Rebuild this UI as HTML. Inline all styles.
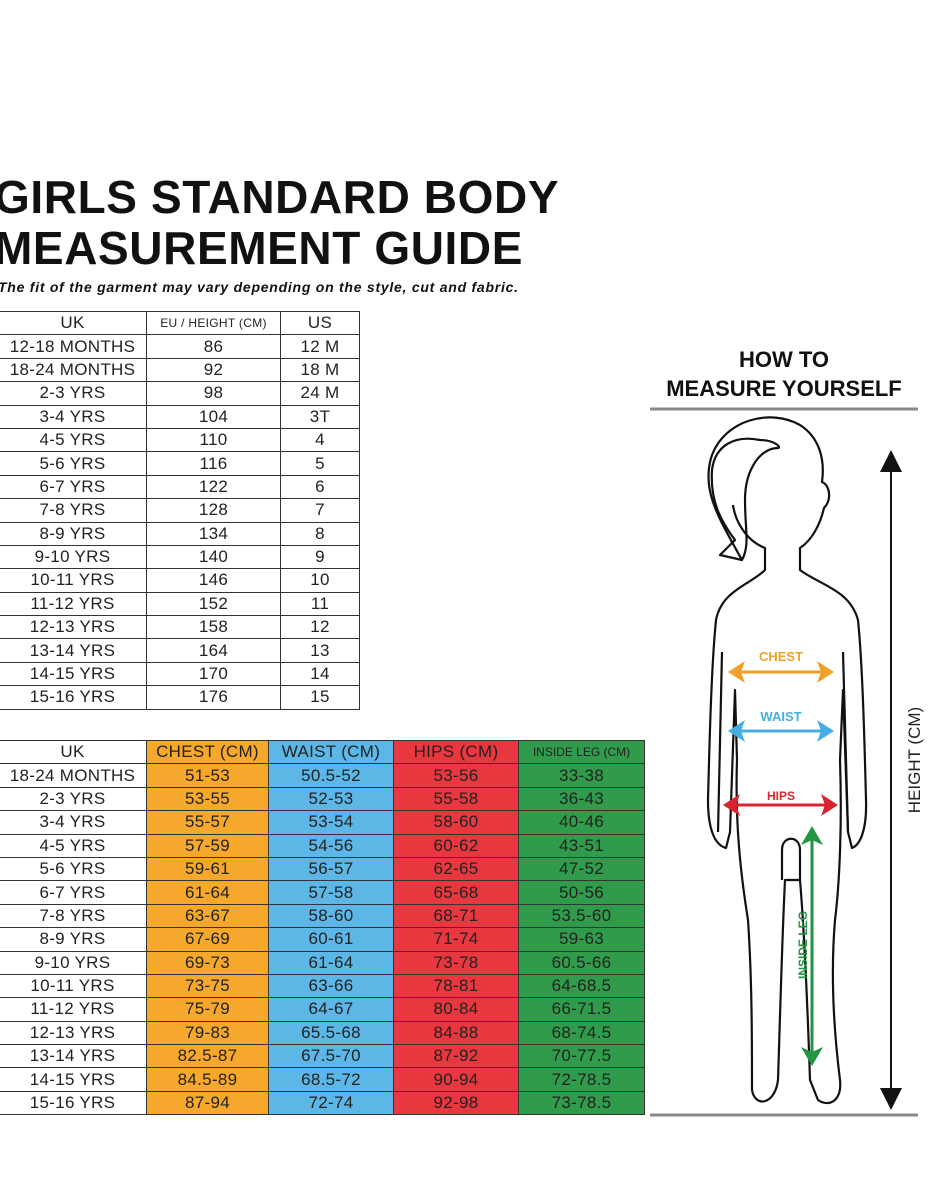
<!DOCTYPE html>
<html><head><meta charset="utf-8"><style>
body{margin:0;width:930px;height:1195px;background:#fff;position:relative;overflow:hidden;font-family:"Liberation Sans",sans-serif;color:#222}
.t{position:absolute;white-space:nowrap}
table{position:absolute;border-collapse:collapse;table-layout:fixed}
td{border:1.5px solid #333;text-align:center;padding:0;font-size:17px;height:22.4px;line-height:20px;overflow:hidden;white-space:nowrap;letter-spacing:0.3px}
.o{background:#f5a82c}.b{background:#5cb6e6}.r{background:#e8373f}.g{background:#2f9b4b}
</style></head><body>
<div class="t" style="left:-6px;top:170px;font-size:46px;font-weight:bold;color:#111;letter-spacing:0.6px">GIRLS STANDARD BODY</div>
<div class="t" style="left:-6px;top:221px;font-size:46px;font-weight:bold;color:#111;letter-spacing:0.6px">MEASUREMENT GUIDE</div>
<div class="t" style="left:-2px;top:279px;font-size:14px;font-weight:bold;font-style:italic;color:#111;letter-spacing:0.75px">The fit of the garment may vary depending on the style, cut and fabric.</div>

<table style="left:-2px;top:311px;width:361px">
<colgroup><col style="width:148px"><col style="width:134px"><col style="width:79px"></colgroup>
<tr><td>UK</td><td style="font-size:12px">EU / HEIGHT (CM)</td><td>US</td></tr>
<tr><td>12-18 MONTHS</td><td>86</td><td>12 M</td></tr>
<tr><td>18-24 MONTHS</td><td>92</td><td>18 M</td></tr>
<tr><td>2-3 YRS</td><td>98</td><td>24 M</td></tr>
<tr><td>3-4 YRS</td><td>104</td><td>3T</td></tr>
<tr><td>4-5 YRS</td><td>110</td><td>4</td></tr>
<tr><td>5-6 YRS</td><td>116</td><td>5</td></tr>
<tr><td>6-7 YRS</td><td>122</td><td>6</td></tr>
<tr><td>7-8 YRS</td><td>128</td><td>7</td></tr>
<tr><td>8-9 YRS</td><td>134</td><td>8</td></tr>
<tr><td>9-10 YRS</td><td>140</td><td>9</td></tr>
<tr><td>10-11 YRS</td><td>146</td><td>10</td></tr>
<tr><td>11-12 YRS</td><td>152</td><td>11</td></tr>
<tr><td>12-13 YRS</td><td>158</td><td>12</td></tr>
<tr><td>13-14 YRS</td><td>164</td><td>13</td></tr>
<tr><td>14-15 YRS</td><td>170</td><td>14</td></tr>
<tr><td>15-16 YRS</td><td>176</td><td>15</td></tr>
</table>

<table style="left:-2px;top:740px;width:646px">
<colgroup><col style="width:148px"><col style="width:122px"><col style="width:125px"><col style="width:125px"><col style="width:126px"></colgroup>
<tr><td>UK</td><td class="o">CHEST (CM)</td><td class="b">WAIST (CM)</td><td class="r">HIPS (CM)</td><td class="g" style="font-size:12px;letter-spacing:0">INSIDE LEG (CM)</td></tr>
<tr><td>18-24 MONTHS</td><td class="o">51-53</td><td class="b">50.5-52</td><td class="r">53-56</td><td class="g">33-38</td></tr>
<tr><td>2-3 YRS</td><td class="o">53-55</td><td class="b">52-53</td><td class="r">55-58</td><td class="g">36-43</td></tr>
<tr><td>3-4 YRS</td><td class="o">55-57</td><td class="b">53-54</td><td class="r">58-60</td><td class="g">40-46</td></tr>
<tr><td>4-5 YRS</td><td class="o">57-59</td><td class="b">54-56</td><td class="r">60-62</td><td class="g">43-51</td></tr>
<tr><td>5-6 YRS</td><td class="o">59-61</td><td class="b">56-57</td><td class="r">62-65</td><td class="g">47-52</td></tr>
<tr><td>6-7 YRS</td><td class="o">61-64</td><td class="b">57-58</td><td class="r">65-68</td><td class="g">50-56</td></tr>
<tr><td>7-8 YRS</td><td class="o">63-67</td><td class="b">58-60</td><td class="r">68-71</td><td class="g">53.5-60</td></tr>
<tr><td>8-9 YRS</td><td class="o">67-69</td><td class="b">60-61</td><td class="r">71-74</td><td class="g">59-63</td></tr>
<tr><td>9-10 YRS</td><td class="o">69-73</td><td class="b">61-64</td><td class="r">73-78</td><td class="g">60.5-66</td></tr>
<tr><td>10-11 YRS</td><td class="o">73-75</td><td class="b">63-66</td><td class="r">78-81</td><td class="g">64-68.5</td></tr>
<tr><td>11-12 YRS</td><td class="o">75-79</td><td class="b">64-67</td><td class="r">80-84</td><td class="g">66-71.5</td></tr>
<tr><td>12-13 YRS</td><td class="o">79-83</td><td class="b">65.5-68</td><td class="r">84-88</td><td class="g">68-74.5</td></tr>
<tr><td>13-14 YRS</td><td class="o">82.5-87</td><td class="b">67.5-70</td><td class="r">87-92</td><td class="g">70-77.5</td></tr>
<tr><td>14-15 YRS</td><td class="o">84.5-89</td><td class="b">68.5-72</td><td class="r">90-94</td><td class="g">72-78.5</td></tr>
<tr><td>15-16 YRS</td><td class="o">87-94</td><td class="b">72-74</td><td class="r">92-98</td><td class="g">73-78.5</td></tr>
</table>

<div class="t" style="left:650px;width:268px;text-align:center;top:347px;font-size:22px;font-weight:bold;color:#111">HOW TO</div>
<div class="t" style="left:650px;width:268px;text-align:center;top:376px;font-size:22px;font-weight:bold;color:#111">MEASURE YOURSELF</div>

<svg style="position:absolute;left:0;top:0" width="930" height="1195">
<line x1="650" y1="409" x2="918" y2="409" stroke="#888" stroke-width="3"/>
<line x1="650" y1="1115" x2="918" y2="1115" stroke="#888" stroke-width="3"/>
<line x1="891" y1="465" x2="891" y2="1095" stroke="#111" stroke-width="2"/>
<polygon points="891,450 880,472 902,472" fill="#111"/>
<polygon points="891,1110 880,1088 902,1088" fill="#111"/>
<text x="920" y="760" transform="rotate(-90 920 760)" text-anchor="middle" font-size="17" font-family="Liberation Sans" fill="#222">HEIGHT (CM)</text>
<g fill="none" stroke="#111" stroke-width="2.2" stroke-linejoin="round">
<path d="M742,560 C720,520 700,490 712,455 C725,420 770,408 800,425 C820,438 825,460 822,482 C830,485 832,500 824,508 C820,525 812,540 800,548 L800,570 C820,585 850,590 858,620 C862,660 864,720 866,800 C867,830 860,845 852,848 L848,832 L843,690 L840,760 C842,820 840,880 835,920 C830,980 835,1040 840,1080 C842,1100 830,1108 818,1100 L810,1080 C808,1020 805,940 800,880 L785,880 C782,940 780,1020 778,1080 C775,1105 755,1108 752,1090 C752,1040 752,980 748,920 C740,870 735,820 737,760 L735,690 L730,832 L726,848 C715,845 708,830 708,800 C710,720 712,660 716,620 C722,590 750,585 765,570 L765,548 C745,540 735,520 733,505"/>
<path d="M735,540 C720,520 710,500 712,470 C715,445 735,435 760,440 C775,440 782,448 778,448 C760,448 745,470 745,500 C745,530 750,545 742,560 L720,555 L730,545 Z"/>
<path d="M722,652 L718,832 M843,652 L848,832"/>
<path d="M782,880 L782,850 C782,835 800,835 800,850 L800,880"/>
</g>
<g stroke-width="3" fill="none">
<line x1="738" y1="672" x2="826" y2="672" stroke="#f0a12b"/>
<line x1="738" y1="731" x2="826" y2="731" stroke="#47aee3"/>
<line x1="733" y1="805" x2="830" y2="805" stroke="#d92430"/>
<line x1="812" y1="840" x2="812" y2="1055" stroke="#23943f"/>
</g>
<polygon points="728,672 745,661 741,672 745,683" fill="#f0a12b"/><polygon points="834,672 817,661 821,672 817,683" fill="#f0a12b"/>
<polygon points="728,731 745,720 741,731 745,742" fill="#47aee3"/><polygon points="834,731 817,720 821,731 817,742" fill="#47aee3"/>
<polygon points="723,805 740,794 736,805 740,816" fill="#d92430"/><polygon points="838,805 821,794 825,805 821,816" fill="#d92430"/>
<polygon points="812,826 801,845 812,840 823,845" fill="#23943f"/><polygon points="812,1066 801,1047 812,1052 823,1047" fill="#23943f"/>
<text x="781" y="661" text-anchor="middle" font-size="13" font-weight="bold" font-family="Liberation Sans" fill="#f0a12b">CHEST</text>
<text x="781" y="721" text-anchor="middle" font-size="13" font-weight="bold" font-family="Liberation Sans" fill="#47aee3">WAIST</text>
<text x="781" y="800" text-anchor="middle" font-size="12" font-weight="bold" font-family="Liberation Sans" fill="#d92430">HIPS</text>
<text x="807" y="945" transform="rotate(-90 807 945)" text-anchor="middle" font-size="12" font-weight="bold" font-family="Liberation Sans" fill="#23943f">INSIDE LEG</text>
</svg>
</body></html>
